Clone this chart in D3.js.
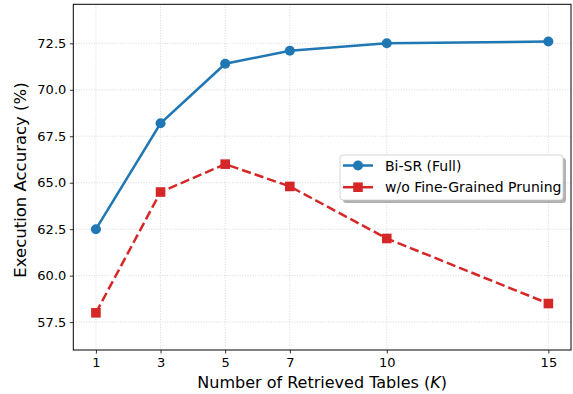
<!DOCTYPE html>
<html><head><meta charset="utf-8">
<script src="https://cdn.jsdelivr.net/npm/d3@7"></script>
<style>body{margin:0;background:#fff}svg{display:block;font-family:"DejaVu Sans",sans-serif}</style>
</head><body><svg id="c" width="573" height="394"></svg>
<script>
const kValues = [1, 3, 5, 7, 10, 15];
const fullAcc = [62.5, 68.2, 71.4, 72.1, 72.5, 72.6];
const noPruneAcc = [58.0, 64.5, 66.0, 64.8, 62.0, 58.5];
const yTicks = [57.5, 60.0, 62.5, 65.0, 67.5, 70.0, 72.5];
const seriesNames = ["Bi-SR (Full)", "w/o Fine-Grained Pruning"];

const svg = d3.select("#c");
const L = 73.3, R = 571, T = 4.3, B = 350;
const x = d3.scaleLinear().domain([0.3, 15.7]).range([L, R]);
const y = d3.scaleLinear().domain([56.0, 74.6]).range([B, T]);

// grid
const g = svg.append("g");
g.selectAll(".gx").data(kValues).join("line")
  .attr("x1", d => x(d)).attr("x2", d => x(d)).attr("y1", T).attr("y2", B)
  .attr("stroke", "#b0b0b0").attr("stroke-width", 0.8).attr("stroke-dasharray", "1,1.6").attr("opacity", 0.6);
g.selectAll(".gy").data(yTicks).join("line")
  .attr("x1", L).attr("x2", R).attr("y1", d => y(d)).attr("y2", d => y(d))
  .attr("stroke", "#b0b0b0").attr("stroke-width", 0.8).attr("stroke-dasharray", "1,1.6").attr("opacity", 0.6);

// axes
const xAxis = svg.append("g").attr("transform", `translate(0,${B})`)
  .call(d3.axisBottom(x).tickValues(kValues).tickFormat(d3.format("d")).tickSize(3.5).tickPadding(4.5));
const yAxis = svg.append("g").attr("transform", `translate(${L},0)`)
  .call(d3.axisLeft(y).tickValues(yTicks).tickFormat(d3.format(".1f")).tickSize(3.5).tickPadding(3.5));
[xAxis, yAxis].forEach(a => {
  a.select(".domain").remove();
  a.selectAll("text").attr("font-size", "13px").attr("fill", "#000").attr("font-family", "DejaVu Sans");
  a.selectAll("line").attr("stroke", "#000").attr("stroke-width", 0.8);
});
// frame
svg.append("rect").attr("x", L).attr("y", T).attr("width", R - L).attr("height", B - T)
  .attr("fill", "none").attr("stroke", "#000").attr("stroke-width", 1);

// lines
const line = d3.line().x(d => x(d[0])).y(d => y(d[1]));
const fullPts = kValues.map((k, i) => [k, fullAcc[i]]);
const noPts = kValues.map((k, i) => [k, noPruneAcc[i]]);
svg.append("path").attr("d", line(fullPts)).attr("fill", "none").attr("stroke", "#1f77b4").attr("stroke-width", 2.5);
svg.selectAll(".m1").data(fullPts).join("circle")
  .attr("cx", d => x(d[0])).attr("cy", d => y(d[1])).attr("r", 5).attr("fill", "#1f77b4");
svg.append("path").attr("d", line(noPts)).attr("fill", "none").attr("stroke", "#d62728").attr("stroke-width", 2.5)
  .attr("stroke-dasharray", "9.25,4");
svg.selectAll(".m2").data(noPts).join("rect")
  .attr("x", d => x(d[0]) - 4.8).attr("y", d => y(d[1]) - 4.8).attr("width", 9.6).attr("height", 9.6).attr("fill", "#d62728");

// labels
svg.append("text").attr("x", (L + R) / 2).attr("y", 388).attr("text-anchor", "middle").attr("font-size", "16px")
  .html('Number of Retrieved Tables (<tspan font-style="italic">K</tspan>)');
svg.append("text").attr("transform", `translate(25.5,180) rotate(-90)`).attr("text-anchor", "middle")
  .attr("font-size", "16.5px").text("Execution Accuracy (%)");

// legend
const lx = 340, ly = 155, lw = 223, lh = 45;
svg.append("rect").attr("x", lx + 3).attr("y", ly + 3).attr("width", lw).attr("height", lh).attr("rx", 3)
  .attr("fill", "#000").attr("opacity", 0.3);
svg.append("rect").attr("x", lx).attr("y", ly).attr("width", lw).attr("height", lh).attr("rx", 3)
  .attr("fill", "#fff").attr("stroke", "#ccc").attr("stroke-width", 0.8);
const leg = svg.append("g");
[0, 1].forEach(i => {
  const yy = ly + 10.5 + i * 21.7;
  leg.append("line").attr("x1", lx + 3).attr("x2", lx + 33).attr("y1", yy).attr("y2", yy)
    .attr("stroke", i ? "#d62728" : "#1f77b4").attr("stroke-width", 2.5);
  if (i) leg.append("rect").attr("x", lx + 18 - 4.8).attr("y", yy - 4.8).attr("width", 9.6).attr("height", 9.6).attr("fill", "#d62728");
  else leg.append("circle").attr("cx", lx + 18).attr("cy", yy).attr("r", 5).attr("fill", "#1f77b4");
  leg.append("text").attr("x", lx + 45).attr("y", yy + 5).attr("font-size", "14px").text(seriesNames[i]);
});
</script></body></html>
